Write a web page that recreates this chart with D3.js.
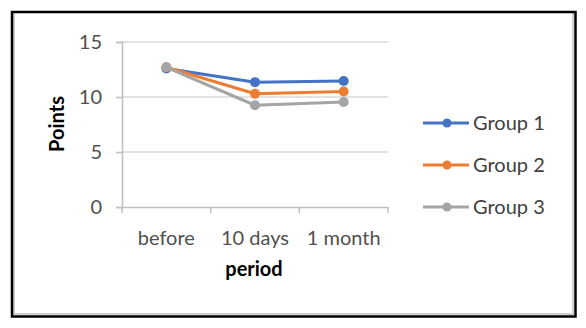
<!DOCTYPE html>
<html>
<head>
<meta charset="utf-8">
<script src="https://cdn.jsdelivr.net/npm/d3@7"></script>
<style>
  body { margin: 0; background: #fff; }
  text { font-family: Lato, "Open Sans", sans-serif; }
</style>
</head>
<body>
<div id="canvas"></div>
<script>
"use strict"

let svgWidth = 586
let svgHeight = 328

let periods = ["before", "10 days", "1 month"]
let groupNames = ["Group 1", "Group 2", "Group 3"]
let group1 = [12.6, 11.35, 11.45]
let group2 = [12.7, 10.3, 10.5]
let group3 = [12.7, 9.25, 9.55]
let yTicks = [0, 5, 10, 15]
let colors = ["#4472C4", "#ED7D31", "#A5A5A5"]

let margin = { top: 42, right: 198, bottom: 121, left: 122 }

let svg = d3.select("#canvas")
    .append("svg")
    .attr("width", svgWidth)
    .attr("height", svgHeight)

/* outer frame */
svg.append("rect")
    .attr("x", 14).attr("y", 12)
    .attr("width", 559).attr("height", 302)
    .attr("fill", "none")
    .attr("stroke", "#d0d0d0")
    .attr("stroke-width", 2)
svg.append("rect")
    .attr("x", 12).attr("y", 12)
    .attr("width", 563.5).attr("height", 304.5)
    .attr("fill", "none")
    .attr("stroke", "black")
    .attr("stroke-width", 2.5)

let xScale = d3.scaleBand()
    .domain(periods)
    .range([margin.left, svgWidth - margin.right])

let yScale = d3.scaleLinear()
    .domain([0, 15])
    .range([svgHeight - margin.bottom, margin.top])

/* gridlines */
svg.append("g")
    .selectAll("line")
    .data(yTicks.filter(d => d > 0))
    .enter()
    .append("line")
    .attr("x1", margin.left)
    .attr("x2", svgWidth - margin.right)
    .attr("y1", d => yScale(d))
    .attr("y2", d => yScale(d))
    .attr("stroke", "#d9d9d9")
    .attr("stroke-width", 1.5)

/* y axis */
let yAxis = svg.append("g")
    .attr("transform", `translate(${margin.left},0)`)
    .call(d3.axisLeft(yScale).tickValues(yTicks).tickSize(6).tickPadding(14))
yAxis.select(".domain").attr("stroke", "#bfbfbf").attr("stroke-width", 1.5)
yAxis.selectAll(".tick line").attr("stroke", "#bfbfbf").attr("stroke-width", 1.5)
yAxis.selectAll(".tick text")
    .attr("font-size", 20)
    .attr("fill", "#505050")
    .attr("font-family", "Lato, sans-serif")

/* x axis */
let xAxis = svg.append("g")
    .attr("transform", `translate(0,${svgHeight - margin.bottom})`)
    .call(d3.axisBottom(xScale).tickSize(0).tickPadding(24))
xAxis.select(".domain").attr("stroke", "#bfbfbf").attr("stroke-width", 1.5)
xAxis.selectAll(".tick text")
    .attr("font-size", 20)
    .attr("fill", "#505050")
    .attr("font-family", "Lato, sans-serif")

// tick marks between categories
let edges = periods.map(p => xScale(p)).concat([xScale.range()[1]])
svg.append("g")
    .selectAll("line")
    .data(edges)
    .enter()
    .append("line")
    .attr("x1", d => d).attr("x2", d => d)
    .attr("y1", svgHeight - margin.bottom)
    .attr("y2", svgHeight - margin.bottom + 6)
    .attr("stroke", "#bfbfbf")
    .attr("stroke-width", 1.5)

/* axis titles */
svg.append("text")
    .attr("transform", "rotate(-90)")
    .attr("x", -124)
    .attr("y", 64)
    .attr("text-anchor", "middle")
    .attr("font-size", 20)
    .attr("font-weight", "bold")
    .attr("fill", "#000")
    .text("Points")

svg.append("text")
    .attr("x", 254)
    .attr("y", 276)
    .attr("text-anchor", "middle")
    .attr("font-size", 20)
    .attr("font-weight", "bold")
    .attr("fill", "#000")
    .text("period")

/* lines */
let series = [group1, group2, group3]
let line = d3.line()
    .x((d, i) => xScale(periods[i]) + xScale.bandwidth() / 2)
    .y(d => yScale(d))

series.forEach(function (values, idx) {
    svg.append("path")
        .datum(values)
        .attr("d", line)
        .attr("fill", "none")
        .attr("stroke", colors[idx])
        .attr("stroke-width", 3)
        .attr("stroke-linejoin", "round")
    svg.selectAll("circle.g" + idx)
        .data(values)
        .enter()
        .append("circle")
        .attr("class", "g" + idx)
        .attr("cx", (d, i) => xScale(periods[i]) + xScale.bandwidth() / 2)
        .attr("cy", d => yScale(d))
        .attr("r", 5)
        .attr("fill", colors[idx])
})

/* legend */
let legend = svg.append("g")
    .attr("transform", "translate(423,123)")

groupNames.forEach(function (name, i) {
    let y = i * 42
    legend.append("line")
        .attr("x1", 0).attr("x2", 46)
        .attr("y1", y).attr("y2", y)
        .attr("stroke", colors[i])
        .attr("stroke-width", 3)
    legend.append("circle")
        .attr("cx", 24).attr("cy", y)
        .attr("r", 4.5)
        .attr("fill", colors[i])
    legend.append("text")
        .attr("x", 50)
        .attr("y", y + 7)
        .attr("font-size", 20)
        .attr("fill", "#404040")
        .text(name)
})
</script>
</body>
</html>
